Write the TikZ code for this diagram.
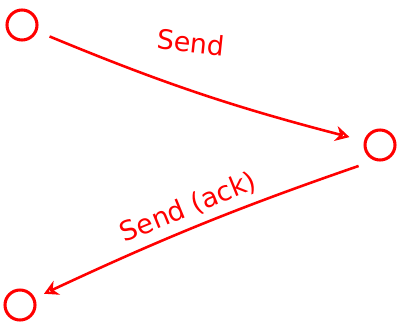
\documentclass[tikz,border=0pt]{standalone}
\usepackage{fontspec}
\setsansfont{DejaVu Sans}
\usetikzlibrary{arrows.meta,positioning}

\begin{document}
\begin{tikzpicture}[
    x=0.03cm, y=-0.03cm,
    peer/.style={circle, draw=red, line width=2.6pt, minimum size=0.9cm, inner sep=0pt},
    msg/.style={-{Stealth[length=12pt,width=13pt,open]}, red, line width=2.2pt},
    lbl/.style={text=red, font=\sffamily\fontsize{23}{27}\selectfont}
]

% canvas
\useasboundingbox (0,0) rectangle (398,328);

% Peers
\node[peer] (a) at (22,25) {};
\node[peer] (b) at (380,145) {};
\node[peer] (c) at (20,305) {};

% Messages
\draw[msg, shorten <=0.4cm, shorten >=0.45cm] (a) to[bend right=4]
    node[lbl, pos=0.47, above=0.95cm, rotate=-6] (send) {Send} (b);
\draw[msg, shorten <=0.5cm, shorten >=0.3cm] (b.250) to[bend right=3]
    node[lbl, pos=0.52, above=0.1cm, sloped] (ack) {Send (ack)} (c);

\end{tikzpicture}
\end{document}
